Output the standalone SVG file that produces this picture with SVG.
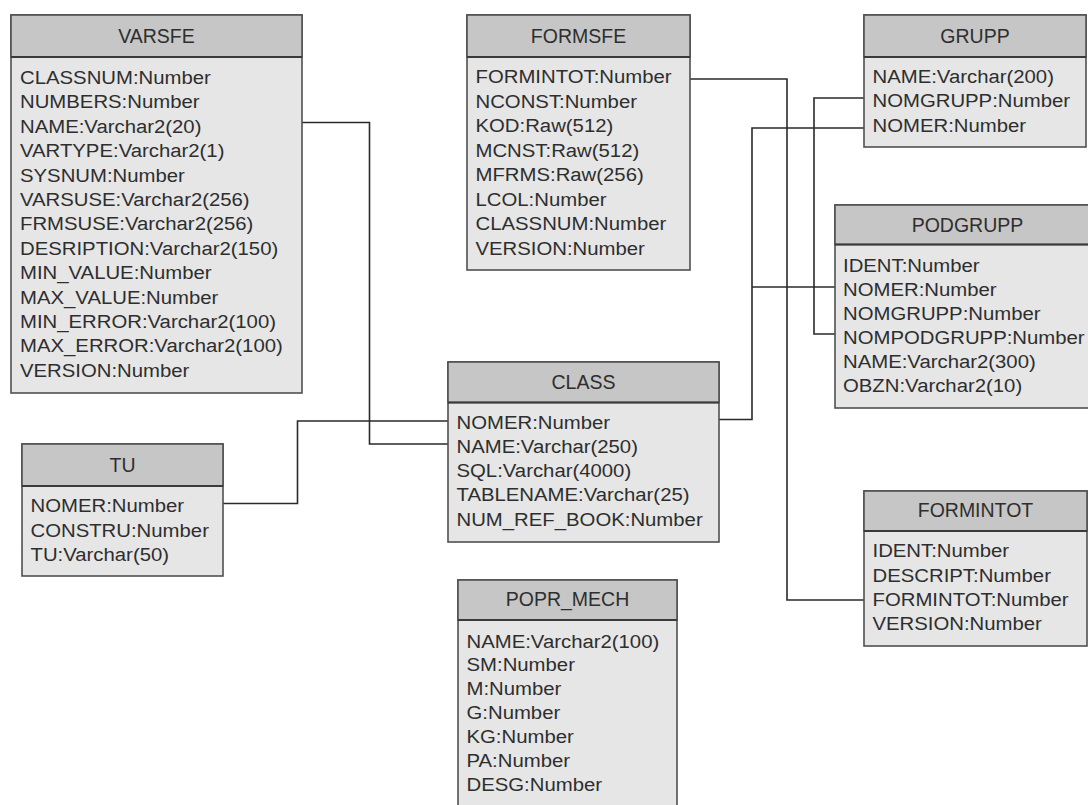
<svg xmlns="http://www.w3.org/2000/svg" width="1088" height="805" viewBox="0 0 1088 805">
<style>
.body{fill:#e6e6e6;stroke:#505050;stroke-width:1.6}
.head{fill:#c6c6c6;stroke:#505050;stroke-width:1.6}
.div{stroke:#3a3a3a;stroke-width:2}
.ht{font-family:"Liberation Sans",Arial,sans-serif;font-size:19.5px;fill:#2e2e2e;text-anchor:middle}
.t{font-family:"Liberation Sans",Arial,sans-serif;font-size:18px;fill:#2e2e2e}
.c{fill:none;stroke:#2a2a2a;stroke-width:1.6}
</style>
<rect width="1088" height="805" fill="#ffffff"/>
<g id="connectors">
<polyline class="c" points="302,122.5 369.5,122.5 369.5,444 448,444"/>
<polyline class="c" points="223,503.5 297.5,503.5 297.5,421 448,421"/>
<polyline class="c" points="719,419.5 752,419.5 752,128 864,128"/>
<line class="c" x1="752" y1="287" x2="835" y2="287"/>
<polyline class="c" points="864,98 814,98 814,334 835,334"/>
<polyline class="c" points="690,79 787,79 787,600 864,600"/>
</g>
<g id="VARSFE">
<rect class="body" x="11" y="15" width="291" height="378"/>
<rect class="head" x="11" y="15" width="291" height="42"/>
<line class="div" x1="11" y1="57" x2="302" y2="57"/>
<text class="ht" x="156.5" y="43">VARSFE</text>
<g transform="translate(20,0) scale(1.13,1)">
<text class="t" x="0" y="84">CLASSNUM:Number</text>
<text class="t" x="0" y="108.4">NUMBERS:Number</text>
<text class="t" x="0" y="132.8">NAME:Varchar2(20)</text>
<text class="t" x="0" y="157.2">VARTYPE:Varchar2(1)</text>
<text class="t" x="0" y="181.6">SYSNUM:Number</text>
<text class="t" x="0" y="206">VARSUSE:Varchar2(256)</text>
<text class="t" x="0" y="230.4">FRMSUSE:Varchar2(256)</text>
<text class="t" x="0" y="254.8">DESRIPTION:Varchar2(150)</text>
<text class="t" x="0" y="279.2">MIN_VALUE:Number</text>
<text class="t" x="0" y="303.6">MAX_VALUE:Number</text>
<text class="t" x="0" y="328">MIN_ERROR:Varchar2(100)</text>
<text class="t" x="0" y="352.4">MAX_ERROR:Varchar2(100)</text>
<text class="t" x="0" y="376.8">VERSION:Number</text>
</g>
</g>
<g id="FORMSFE">
<rect class="body" x="467" y="15" width="223" height="255"/>
<rect class="head" x="467" y="15" width="223" height="42"/>
<line class="div" x1="467" y1="57" x2="690" y2="57"/>
<text class="ht" x="578.5" y="43">FORMSFE</text>
<g transform="translate(475.5,0) scale(1.13,1)">
<text class="t" x="0" y="83.5">FORMINTOT:Number</text>
<text class="t" x="0" y="108">NCONST:Number</text>
<text class="t" x="0" y="132.5">KOD:Raw(512)</text>
<text class="t" x="0" y="157">MCNST:Raw(512)</text>
<text class="t" x="0" y="181.5">MFRMS:Raw(256)</text>
<text class="t" x="0" y="206">LCOL:Number</text>
<text class="t" x="0" y="230.5">CLASSNUM:Number</text>
<text class="t" x="0" y="255">VERSION:Number</text>
</g>
</g>
<g id="GRUPP">
<rect class="body" x="864" y="15" width="222" height="132"/>
<rect class="head" x="864" y="15" width="222" height="42"/>
<line class="div" x1="864" y1="57" x2="1086" y2="57"/>
<text class="ht" x="975" y="43">GRUPP</text>
<g transform="translate(872.5,0) scale(1.13,1)">
<text class="t" x="0" y="83.3">NAME:Varchar(200)</text>
<text class="t" x="0" y="107.5">NOMGRUPP:Number</text>
<text class="t" x="0" y="131.7">NOMER:Number</text>
</g>
</g>
<g id="PODGRUPP">
<rect class="body" x="835" y="205" width="265" height="203"/>
<rect class="head" x="835" y="205" width="265" height="39.5"/>
<line class="div" x1="835" y1="244.5" x2="1100" y2="244.5"/>
<text class="ht" x="967.5" y="231.5">PODGRUPP</text>
<g transform="translate(843,0) scale(1.13,1)">
<text class="t" x="0" y="272.5">IDENT:Number</text>
<text class="t" x="0" y="296.5">NOMER:Number</text>
<text class="t" x="0" y="320.5">NOMGRUPP:Number</text>
<text class="t" x="0" y="344.5">NOMPODGRUPP:Number</text>
<text class="t" x="0" y="368.5">NAME:Varchar2(300)</text>
<text class="t" x="0" y="392.5">OBZN:Varchar2(10)</text>
</g>
</g>
<g id="CLASS">
<rect class="body" x="448" y="362" width="271" height="180"/>
<rect class="head" x="448" y="362" width="271" height="40.5"/>
<line class="div" x1="448" y1="402.5" x2="719" y2="402.5"/>
<text class="ht" x="583.5" y="389">CLASS</text>
<g transform="translate(456.5,0) scale(1.13,1)">
<text class="t" x="0" y="428.7">NOMER:Number</text>
<text class="t" x="0" y="453">NAME:Varchar(250)</text>
<text class="t" x="0" y="477.2">SQL:Varchar(4000)</text>
<text class="t" x="0" y="501.5">TABLENAME:Varchar(25)</text>
<text class="t" x="0" y="525.7">NUM_REF_BOOK:Number</text>
</g>
</g>
<g id="TU">
<rect class="body" x="22" y="444" width="201" height="132"/>
<rect class="head" x="22" y="444" width="201" height="42"/>
<line class="div" x1="22" y1="486" x2="223" y2="486"/>
<text class="ht" x="122.5" y="472">TU</text>
<g transform="translate(30.5,0) scale(1.13,1)">
<text class="t" x="0" y="512.3">NOMER:Number</text>
<text class="t" x="0" y="536.7">CONSTRU:Number</text>
<text class="t" x="0" y="561">TU:Varchar(50)</text>
</g>
</g>
<g id="FORMINTOT">
<rect class="body" x="864" y="491" width="223" height="155"/>
<rect class="head" x="864" y="491" width="223" height="40"/>
<line class="div" x1="864" y1="531" x2="1087" y2="531"/>
<text class="ht" x="975.5" y="517">FORMINTOT</text>
<g transform="translate(872.5,0) scale(1.13,1)">
<text class="t" x="0" y="557.3">IDENT:Number</text>
<text class="t" x="0" y="581.7">DESCRIPT:Number</text>
<text class="t" x="0" y="606">FORMINTOT:Number</text>
<text class="t" x="0" y="630.5">VERSION:Number</text>
</g>
</g>
<g id="POPR_MECH">
<rect class="body" x="458" y="580" width="219" height="250"/>
<rect class="head" x="458" y="580" width="219" height="40"/>
<line class="div" x1="458" y1="620" x2="677" y2="620"/>
<text class="ht" x="567.5" y="606">POPR_MECH</text>
<g transform="translate(466.5,0) scale(1.13,1)">
<text class="t" x="0" y="648">NAME:Varchar2(100)</text>
<text class="t" x="0" y="671.5">SM:Number</text>
<text class="t" x="0" y="695">M:Number</text>
<text class="t" x="0" y="719">G:Number</text>
<text class="t" x="0" y="743">KG:Number</text>
<text class="t" x="0" y="767">PA:Number</text>
<text class="t" x="0" y="791">DESG:Number</text>
</g>
</g>
</svg>
